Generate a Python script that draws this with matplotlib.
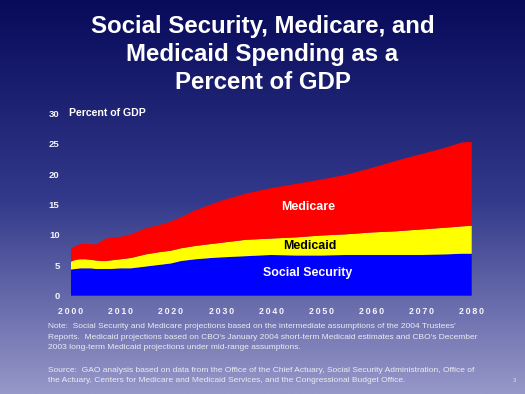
import numpy as np
import matplotlib
matplotlib.use("Agg")
import matplotlib.pyplot as plt

years = [2000, 2001, 2002, 2003, 2004, 2005, 2006, 2007, 2008, 2010, 2012, 2015, 2018,
         2020, 2022, 2025, 2028, 2030, 2035, 2040, 2045, 2050, 2055, 2060, 2065, 2070,
         2075, 2078, 2080]
social_security = [4.3, 4.4, 4.5, 4.5, 4.5, 4.4, 4.4, 4.4, 4.4, 4.5, 4.5, 4.8, 5.1,
                   5.3, 5.7, 6.0, 6.2, 6.3, 6.5, 6.7, 6.6, 6.6, 6.7, 6.7, 6.7, 6.7,
                   6.8, 6.9, 6.9]
medicaid = [1.3, 1.5, 1.5, 1.5, 1.4, 1.4, 1.3, 1.3, 1.4, 1.5, 1.7, 2.0, 2.1,
            2.1, 2.1, 2.2, 2.3, 2.4, 2.7, 2.7, 3.0, 3.3, 3.4, 3.7, 3.9, 4.2,
            4.4, 4.5, 4.6]
medicare = [2.1, 2.3, 2.5, 2.5, 2.6, 2.6, 3.2, 3.7, 3.7, 3.7, 3.9, 4.3, 4.5,
            4.8, 5.1, 5.9, 6.5, 6.9, 7.6, 8.3, 8.8, 9.2, 9.8, 10.6, 11.6, 12.4,
            13.2, 13.8, 13.8]
x_ticks = [2000, 2010, 2020, 2030, 2040, 2050, 2060, 2070, 2080]
y_ticks = [0, 5, 10, 15, 20, 25, 30]

title_lines = ["Social Security, Medicare, and", "Medicaid Spending as a", "Percent of GDP"]
note_lines = [
    "Note:  Social Security and Medicare projections based on the intermediate assumptions of the 2004 Trustees'",
    "Reports.  Medicaid projections based on CBO's January 2004 short-term Medicaid estimates and CBO's December",
    "2003 long-term Medicaid projections under mid-range assumptions.",
]
source_lines = [
    "Source:  GAO analysis based on data from the Office of the Chief Actuary, Social Security Administration, Office of",
    "the Actuary, Centers for Medicare and Medicaid Services, and the Congressional Budget Office.",
]

plt.rcParams['font.family'] = ['Liberation Sans', 'DejaVu Sans']

W, H = 525, 394
fig = plt.figure(figsize=(W / 100, H / 100), dpi=100)

# background gradient
bg = fig.add_axes([0, 0, 1, 1], zorder=0)
t = np.linspace(0, 1, 256)[:, None]
top = np.array([8, 10, 90]) / 255
mid = np.array([50, 56, 138]) / 255
bot = np.array([150, 152, 200]) / 255
cols = np.where(t < 0.5, top + (mid - top) * (t / 0.5), mid + (bot - mid) * ((t - 0.5) / 0.5))
img = np.repeat(cols[:, None, :], 2, axis=1).reshape(256, 2, 3)
bg.imshow(img, aspect='auto', extent=[0, 1, 0, 1], origin='upper')
bg.axis('off')

def fx(px):
    return px / W

def fy(py):
    return 1 - py / H

ax = fig.add_axes([fx(70.7), fy(295.7), fx(471.7) - fx(70.7), fy(113.3) - fy(295.7)], zorder=1)
ax.patch.set_alpha(0)
ax.stackplot(years, social_security, medicaid, medicare,
             colors=['#0000ff', '#ffff00', '#ff0000'], linewidth=0)
ax.set_xlim(2000, 2080)
ax.set_ylim(0, 30)
for s in ax.spines.values():
    s.set_visible(False)
ax.set_xticks(x_ticks)
ax.set_xticklabels(["\u2009".join(str(v)) for v in x_ticks], fontsize=6.4, fontweight='bold', color='#f4f4fa')
ax.set_yticks(y_ticks)
ax.set_yticklabels([str(v) for v in y_ticks], fontsize=6.8, fontweight='bold', color='#f4f4fa')
ax.tick_params(length=0, pad=8)
ax.tick_params(axis='x', pad=8)

ax.text(2047.3, 14.6, "Medicare", ha='center', va='center', fontsize=8.9, fontweight='bold', color='white')
ax.text(2047.7, 8.2, "Medicaid", ha='center', va='center', fontsize=8.9, fontweight='bold', color='black')
ax.text(2047.2, 3.8, "Social Security", ha='center', va='center', fontsize=8.9, fontweight='bold', color='white')

fig.text(fx(69), fy(113.3), "Percent of GDP", ha='left', va='center', fontsize=7.6,
         fontweight='bold', color='white')

for i, line in enumerate(title_lines):
    fig.text(0.5, fy(33 + 28 * i), line, ha='center', va='baseline', fontsize=17.3,
             fontweight='bold', color='white')

for i, line in enumerate(note_lines):
    fig.text(fx(48), fy(327 + 10.3 * i), line, ha='left', va='center', fontsize=6.0, color='#ececf4')
for i, line in enumerate(source_lines):
    fig.text(fx(48), fy(370 + 10.5 * i), line, ha='left', va='center', fontsize=6.0, color='#ececf4')
fig.text(fx(515), fy(381), "3", ha='center', va='center', fontsize=4.5, color='#dcdcea')

fig.savefig("out.png", dpi=100)
